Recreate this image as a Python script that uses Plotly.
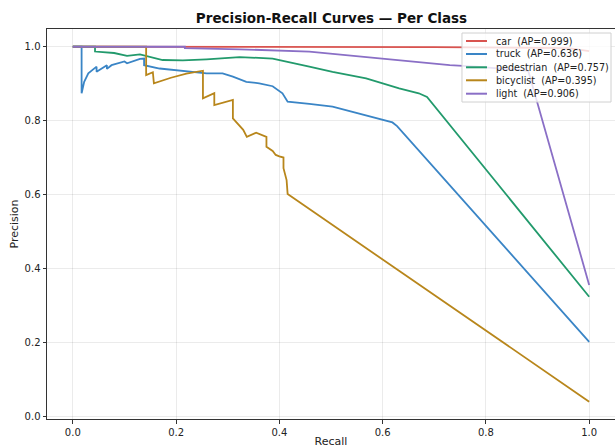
import plotly.graph_objects as go

# ---- data ----
class_names = ["car", "truck", "pedestrian", "bicyclist", "light"]
ap_values = [0.999, 0.636, 0.757, 0.395, 0.906]
colors = ["#d9534f", "#3a85c6", "#229a6c", "#b8861b", "#8a6fc6"]

car_recall = [0.0, 0.6, 0.7, 0.96, 1.0]
car_precision = [1.0, 1.0, 0.999, 0.996, 0.988]

truck_recall = [0.0, 0.017, 0.017, 0.022, 0.03, 0.046, 0.046, 0.06, 0.066, 0.066, 0.075,
                0.08, 0.1, 0.105, 0.13, 0.138, 0.138, 0.168, 0.213, 0.259, 0.29, 0.31,
                0.336, 0.361, 0.387, 0.406, 0.416, 0.439, 0.458, 0.503, 0.568, 0.619,
                0.628, 1.0]
truck_precision = [1.0, 1.0, 0.874, 0.905, 0.928, 0.946, 0.932, 0.943, 0.950, 0.940, 0.950,
                   0.952, 0.960, 0.955, 0.967, 0.968, 0.950, 0.941, 0.935, 0.928, 0.928, 0.919,
                   0.905, 0.901, 0.893, 0.874, 0.851, 0.847, 0.845, 0.838, 0.815, 0.795,
                   0.785, 0.201]

ped_recall = [0.0, 0.043, 0.043, 0.08, 0.105, 0.13, 0.174, 0.213, 0.259, 0.323, 0.387,
              0.42, 0.458, 0.503, 0.568, 0.632, 0.67, 0.686, 1.0]
ped_precision = [1.0, 1.0, 0.987, 0.983, 0.975, 0.979, 0.964, 0.963, 0.966, 0.972, 0.968,
                 0.957, 0.946, 0.932, 0.914, 0.887, 0.874, 0.864, 0.323]

bic_recall = [0.0, 0.142, 0.142, 0.155, 0.157, 0.19, 0.22, 0.252, 0.252, 0.274, 0.274,
              0.310, 0.310, 0.316, 0.330, 0.337, 0.355, 0.375, 0.375, 0.387, 0.393, 0.400,
              0.408, 0.408, 0.414, 0.416, 1.0]
bic_precision = [1.0, 1.0, 0.923, 0.931, 0.901, 0.916, 0.927, 0.935, 0.860, 0.874, 0.842,
                 0.856, 0.806, 0.796, 0.775, 0.756, 0.767, 0.756, 0.729, 0.718, 0.707, 0.703,
                 0.700, 0.671, 0.639, 0.601, 0.039]

light_recall = [0.0, 0.217, 0.217, 0.323, 0.458, 0.535, 0.6, 0.696, 0.73, 0.781, 0.882, 1.0]
light_precision = [1.0, 1.0, 0.996, 0.993, 0.987, 0.977, 0.968, 0.955, 0.950, 0.946, 0.935, 0.355]

recalls = [car_recall, truck_recall, ped_recall, bic_recall, light_recall]
precisions = [car_precision, truck_precision, ped_precision, bic_precision, light_precision]

x_ticks = [0.0, 0.2, 0.4, 0.6, 0.8, 1.0]
y_ticks = [0.0, 0.2, 0.4, 0.6, 0.8, 1.0]

FONT = "DejaVu Sans"
NBSP = "\u00a0"

fig = go.Figure()
for name, ap, col, r, p in zip(class_names, ap_values, colors, recalls, precisions):
    fig.add_trace(go.Scatter(
        x=r, y=p, mode="lines", name=f"{name}  (AP={ap:.3f})",
        line=dict(color=col, width=1.8), showlegend=False,
    ))

# ---- legend drawn as shapes + annotations (matplotlib-like compact rows) ----
leg_x0, leg_x1, leg_y0, leg_y1 = 0.7306, 0.993, 0.8128, 0.9897
sample_x0, sample_x1, text_x = 0.7377, 0.7746, 0.787
row_y = [0.9692, 0.9359, 0.9018, 0.8685, 0.8341]

shapes = [dict(type="rect", xref="paper", yref="paper",
               x0=leg_x0, x1=leg_x1, y0=leg_y0, y1=leg_y1,
               fillcolor="rgba(255,255,255,0.8)", line=dict(color="#d0d0d0", width=1),
               layer="above")]
annotations = []
for name, ap, col, yy in zip(class_names, ap_values, colors, row_y):
    shapes.append(dict(type="line", xref="paper", yref="paper",
                       x0=sample_x0, x1=sample_x1, y0=yy, y1=yy,
                       line=dict(color=col, width=2), layer="above"))
    annotations.append(dict(xref="paper", yref="paper", x=text_x, y=yy,
                            xanchor="left", yanchor="middle", showarrow=False,
                            text=f"{name}{NBSP}{NBSP}(AP={ap:.3f})",
                            font=dict(family=FONT, size=9.6, color="#222222")))

axis_common = dict(
    showline=True, linecolor="#333333", linewidth=1, mirror=True,
    showgrid=True, gridcolor="rgba(0,0,0,0.08)", gridwidth=1,
    ticks="outside", ticklen=3.5, tickwidth=1, tickcolor="#333333",
    tickfont=dict(family=FONT, size=10, color="#222222"),
    zeroline=False, tickformat=".1f",
)

fig.update_layout(
    width=615, height=448,
    margin=dict(l=47, r=0, t=29, b=29),
    paper_bgcolor="white", plot_bgcolor="white",
    title=dict(text="<b>Precision-Recall Curves — Per Class</b>",
               font=dict(family=FONT, size=13.5, color="#111111"),
               x=0.539, xanchor="center", y=0.96, yanchor="middle"),
    xaxis=dict(range=[-0.05, 1.05], tickvals=x_ticks,
               title=dict(text="Recall", font=dict(family=FONT, size=11, color="#222222"),
                          standoff=2),
               **axis_common),
    yaxis=dict(range=[-0.008, 1.048], tickvals=y_ticks,
               title=dict(text="Precision", font=dict(family=FONT, size=11, color="#222222"),
                          standoff=3),
               **axis_common),
    shapes=shapes,
    annotations=annotations,
    showlegend=False,
)

fig.write_html("out.html", config={"displayModeBar": False},
               post_script="document.body.style.margin='0';")
